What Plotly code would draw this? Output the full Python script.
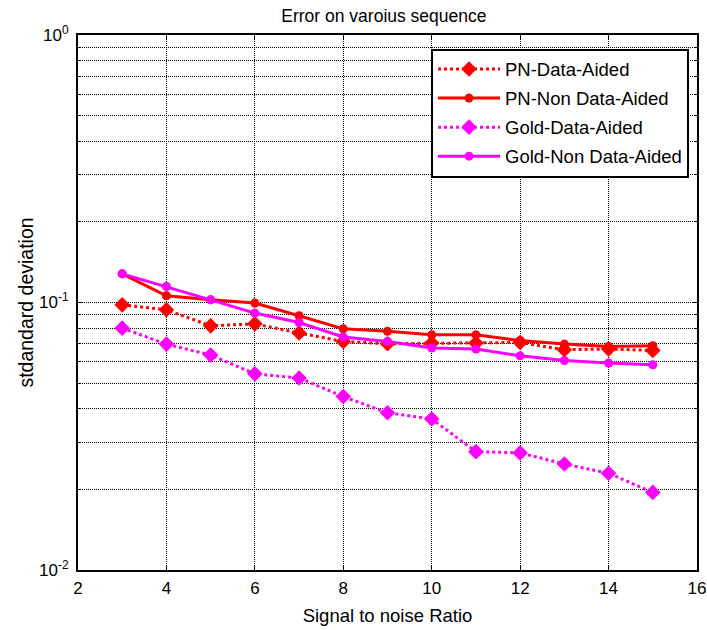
import plotly.graph_objects as go

snr = [3, 4, 5, 6, 7, 8, 9, 10, 11, 12, 13, 14, 15]
pn_data_aided = [0.098, 0.0939, 0.0818, 0.0832, 0.0769, 0.0715, 0.0701, 0.0705, 0.0705, 0.0709, 0.0666, 0.0670, 0.0662]
pn_non_data_aided = [0.128, 0.106, 0.1023, 0.0995, 0.0892, 0.0797, 0.078, 0.0757, 0.0757, 0.0721, 0.0699, 0.0685, 0.0689]
gold_data_aided = [0.0802, 0.0699, 0.0636, 0.0541, 0.0522, 0.0445, 0.0387, 0.0367, 0.0277, 0.0274, 0.0249, 0.0230, 0.0195]
gold_non_data_aided = [0.128, 0.1148, 0.1023, 0.0913, 0.0842, 0.0743, 0.0715, 0.0676, 0.0670, 0.0632, 0.0607, 0.0594, 0.0585]

y_tickvals = [0.01, 0.1, 1]
y_ticktext = ["10<sup>-2</sup>", "10<sup>-1</sup>", "10<sup>0</sup>"]
y_minor = [m * 10 ** e for e in (-2, -1) for m in range(2, 10)]

RED = "#FF0000"
MAG = "#FF00FF"
FONT = "Liberation Sans, Arial, sans-serif"

fig = go.Figure()
specs = [
    (pn_data_aided, "PN-Data-Aided", RED, "dot", "diamond", 12),
    (pn_non_data_aided, "PN-Non Data-Aided", RED, "solid", "circle", 9),
    (gold_data_aided, "Gold-Data-Aided", MAG, "dot", "diamond", 12),
    (gold_non_data_aided, "Gold-Non Data-Aided", MAG, "solid", "circle", 9),
]
for i, (vals, name, col, dash, sym, sz) in enumerate(specs):
    fig.add_trace(go.Scatter(x=snr, y=vals, name=name, mode="lines+markers", legendgroup=f"g{i}",
                             line=dict(color=col, width=3, dash=dash),
                             marker=dict(symbol=sym, size=sz, color=col)))

fig.update_layout(
    width=707, height=630,
    margin=dict(l=78, r=10, t=35, b=60, autoexpand=False),
    paper_bgcolor="white", plot_bgcolor="white",
    font=dict(family=FONT, color="black", size=17),
    title=dict(text="Error on varoius sequence", xref="container", x=0.543, xanchor="center",
               yref="container", y=1 - 16 / 630, yanchor="middle",
               font=dict(size=17.5, family=FONT, color="black")),
    showlegend=True,
    legend=dict(x=(431 - 78) / 619, y=1 - (49 - 35.5) / 534.5, xanchor="left", yanchor="top",
                bgcolor="white", bordercolor="black", borderwidth=2,
                font=dict(size=18.5, family=FONT, color="black"), itemwidth=62,
                traceorder="grouped", tracegroupgap=2),
)
fig.update_xaxes(range=[2, 16], dtick=2, tick0=2, automargin=False,
                 showline=True, linecolor="black", linewidth=2, mirror="ticks",
                 ticks="inside", ticklen=5, tickcolor="black",
                 tickfont=dict(size=17, family=FONT, color="black"), ticklabelstandoff=2,
                 showgrid=True, gridcolor="black", griddash="1px,1px", gridwidth=1,
                 zeroline=False,
                 title=dict(text="Signal to noise Ratio", standoff=12,
                            font=dict(size=18.5, family=FONT, color="black")))
fig.update_yaxes(type="log", range=[-2, 0], automargin=False,
                 tickmode="array", tickvals=y_tickvals, ticktext=y_ticktext,
                 showline=True, linecolor="black", linewidth=2, mirror="ticks",
                 ticks="inside", ticklen=5, tickcolor="black",
                 tickfont=dict(size=17, family=FONT, color="black"), ticklabelstandoff=4,
                 showgrid=True, gridcolor="black", griddash="1px,1px", gridwidth=1,
                 minor=dict(tickmode="array", tickvals=y_minor, showgrid=True,
                            gridcolor="black", griddash="1px,1px", gridwidth=1,
                            ticks="inside", ticklen=3, tickcolor="black"),
                 zeroline=False,
                 title=dict(text="stdandard deviation", standoff=0,
                            font=dict(size=19.5, family=FONT, color="black")))

fig.write_html("out.html", config={"displayModeBar": False},
               post_script="document.body.style.margin='0px';document.body.style.padding='0px';")
